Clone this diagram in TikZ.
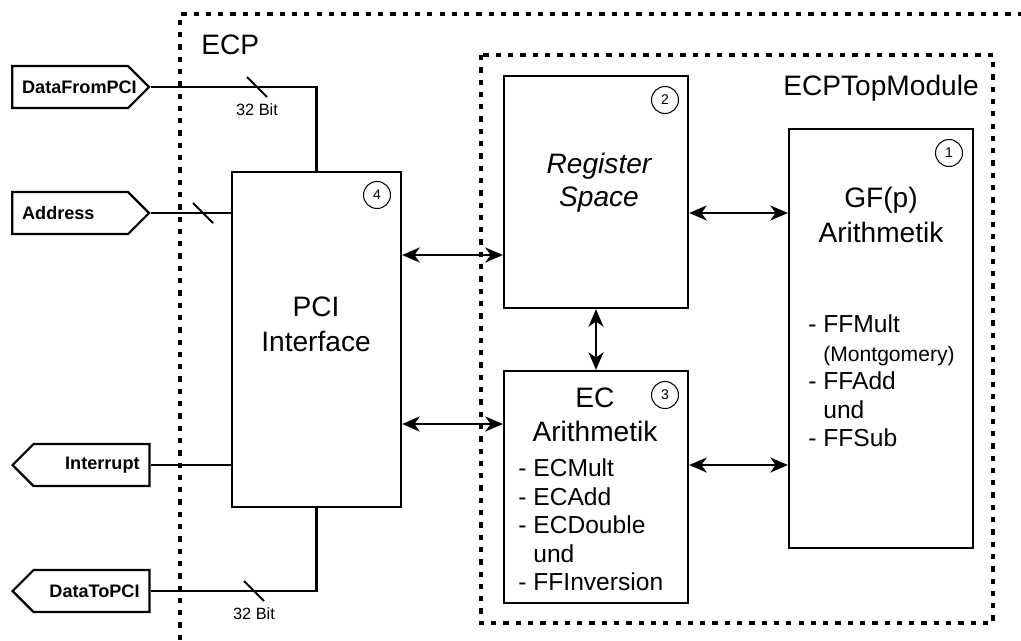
\documentclass[tikz,border=0pt]{standalone}
\usepackage{fontspec}
\setmainfont{Liberation Sans}
\usetikzlibrary{arrows.meta,shapes.symbols}

\begin{document}
\begin{tikzpicture}[x=0.02cm,y=-0.02cm,line join=miter,every node/.style={inner sep=0pt},
  blk/.style={draw,line width=1.3pt},
  num/.style={draw,circle,line width=0.6pt,minimum size=0.54cm,font=\fontsize{8}{8}\selectfont},
  port/.style={draw,signal,line width=1.3pt,minimum height=0.84cm,inner xsep=0.2cm,
    text width=1.92cm,font=\fontsize{10.3}{12}\selectfont\bfseries},
  title/.style={align=center,font=\fontsize{16}{19.8}\selectfont},
  items/.style={align=left,font=\fontsize{14}{16.2}\selectfont},
  bit/.style={font=\fontsize{9.3}{10}\selectfont},
  frame/.style={line width=1.8pt,dash pattern=on 3pt off 4pt},
  wire/.style={line width=1.4pt},
  link/.style={{Stealth[length=10pt,width=8.5pt,inset=3pt]}-{Stealth[length=10pt,width=8.5pt,inset=3pt]},line width=1.5pt}]
  \useasboundingbox (0,0) rectangle (1021,640);
  \draw[frame] (180,640) -- (180,14) -- (1030,14);
  \draw[frame] (481,55) rectangle (993,623);
  \node[font=\fontsize{16}{16}\selectfont,anchor=west] (ecp) at (201,45) {ECP};
  \node[font=\fontsize{16}{16}\selectfont,anchor=east] (top) at (979,88) {ECPTopModule};

  \node[blk,minimum width=3.38cm,minimum height=6.7cm] (pci) at (316.5,339.5) {};
  \node[blk,minimum width=3.68cm,minimum height=4.64cm] (reg) at (596,192) {};
  \node[blk,minimum width=3.68cm,minimum height=4.64cm] (ec) at (596,487) {};
  \node[blk,minimum width=3.68cm,minimum height=8.38cm] (gf) at (881,338.5) {};

  \node[title] (pcitxt) at (316,324) {PCI\\Interface};
  \node[title,font=\fontsize{16}{18.7}\selectfont\itshape] (regtxt) at (599,183) {Register\\Space};
  \node[title] (gftxt) at (881,215) {GF(p)\\Arithmetik};
  \node[title,font=\fontsize{16}{19}\selectfont] (ectxt) at (595,415) {EC\\Arithmetik};
  \node[items,anchor=west] (gflist) at (808,381) {- FFMult\\\hphantom{- }{\fontsize{12}{14}\selectfont(Montgomery)}\\- FFAdd\\\hphantom{- }und\\- FFSub};
  \node[items,anchor=west] (eclist) at (518,525) {- ECMult\\- ECAdd\\- ECDouble\\\hphantom{- }und\\- FFInversion};

  \node[num] (n1) at (949,153) {1};
  \node[num] (n2) at (665,100) {2};
  \node[num] (n3) at (665,395) {3};
  \node[num] (n4) at (377,195) {4};

  \node[port,signal to=east,align=left,anchor=west] (din) at (11,87) {DataFromPCI};
  \node[port,signal to=east,align=left,anchor=west] (addr) at (11,213) {Address};
  \node[port,signal to=west,align=right,anchor=west] (irq) at (11,465) {Interrupt};
  \node[port,signal to=west,align=right,anchor=west] (dout) at (11,591) {DataToPCI};

  \draw[wire] (din.east) -| (pci.north);
  \draw[wire] (addr.east) -- (addr.east -| pci.west);
  \draw[wire] (irq.east) -- (irq.east -| pci.west);
  \draw[wire] (dout.east) -| (pci.south);
  \coordinate (m1) at (257,87);
  \coordinate (m2) at (203,213);
  \coordinate (m3) at (254,591);
  \foreach \m in {m1,m2,m3}
    \draw[line width=1.1pt] (\m) +(-10,-10) -- +(10,10);
  \node[bit] (b1) at (257,110) {32 Bit};
  \node[bit] (b3) at (254,614) {32 Bit};

  \draw[link] (pci.east |- 0,255) -- (reg.west |- 0,255);
  \draw[link] (pci.east |- 0,424) -- (ec.west |- 0,424);
  \draw[link] (reg.south) -- (ec.north);
  \draw[link] (reg.east |- 0,213) -- (gf.west |- 0,213);
  \draw[link] (ec.east |- 0,465) -- (gf.west |- 0,465);
\end{tikzpicture}
\end{document}
